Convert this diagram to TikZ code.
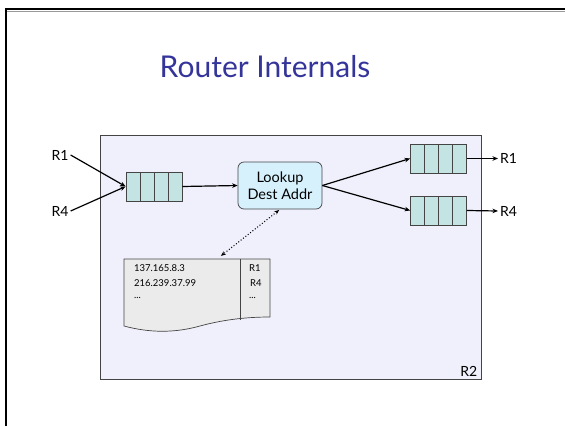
\documentclass[tikz,border=0pt]{standalone}
\usepackage{fontspec}
\setmainfont{Lato}
\usetikzlibrary{arrows.meta,calc}

\definecolor{titleblue}{HTML}{34349A}
\definecolor{routerfill}{HTML}{F0F0FC}
\definecolor{queuefill}{HTML}{C4E4E4}
\definecolor{lookupfill}{HTML}{D6F0FC}
\definecolor{tablefill}{HTML}{EBEBEB}
\definecolor{edge}{HTML}{444444}

\begin{document}
\begin{tikzpicture}[x=1pt,y=-1pt,
  every node/.style={inner sep=2pt},
  lbl/.style={font=\fontsize{14}{16}\selectfont},
  small/.style={font=\fontsize{9.5}{11}\selectfont, inner sep=0pt, anchor=west},
  routerbox/.style={draw=edge, line width=0.9pt, fill=routerfill, inner sep=0pt},
  queue/.style={draw=edge, line width=0.7pt, fill=queuefill,
    minimum width=56pt, minimum height=29pt, inner sep=0pt,
    path picture={\foreach \i in {1,2,3}{
      \draw[edge, line width=0.7pt]
        ($(path picture bounding box.south west)!\i/4!(path picture bounding box.south east)$) --
        ($(path picture bounding box.north west)!\i/4!(path picture bounding box.north east)$);}}},
  lookupbox/.style={draw=edge, line width=0.7pt, fill=lookupfill, rounded corners=6pt,
    minimum width=84pt, minimum height=47pt, align=center, inner sep=0pt,
    font=\fontsize{14.5}{17}\selectfont},
  arr/.style={line width=1.2pt, -{Stealth[length=5.5pt,width=4.5pt]}},
  dotarr/.style={line width=1pt, dotted, {Stealth[length=5pt,width=4pt]}-{Stealth[length=5pt,width=4pt]}},
]
\useasboundingbox (0,0) rectangle (565,426);

% slide frame with its shadow
\draw[black!40, line width=1.2pt] (565,11.2) -- (7,11.2);
\draw[black, line width=2.6pt] (565,9) -- (6,9) -- (6,426);

% title
\node[text=titleblue, font=\fontsize{30}{34}\selectfont] (title) at (265,67) {Router Internals};

% router R2
\node[routerbox, minimum width=381pt, minimum height=244pt] (r2) at (290.5,257) {};
\node[lbl, anchor=south east] (r2lbl) at ($(r2.south east)+(-2,-1)$) {R2};

% queues and lookup
\node[queue] (qin) at (154,186.5) {};
\node[queue] (qr1) at (438.5,158.5) {};
\node[queue] (qr4) at (438.5,210.5) {};
\node[lookupbox] (lk) at (280,185.5) {Lookup\\Dest Addr};

% port labels
\node[lbl] (inR1) at (60,155) {R1};
\node[lbl] (inR4) at (60,211) {R4};
\node[lbl, anchor=west] (outR1) at (498,158.5) {R1};
\node[lbl, anchor=west] (outR4) at (498,211) {R4};

% forwarding table
\draw[edge, line width=0.7pt, fill=tablefill]
  (124,259) -- (270,259) -- (270,317)
  .. controls (245,317) and (222,320) .. (200,326)
  .. controls (175,333) and (150,333) .. (124,326) -- cycle;
\draw[edge, line width=0.7pt] (240,259) -- (240,320);
\coordinate (tbltop) at (217,259);
\node[small] (a1) at (134,268) {137.165.8.3};
\node[small] (a2) at (134,283) {216.239.37.99};
\node[small] (a3) at (134,298) {...};
\node[small] (p1) at (249,268) {R1};
\node[small] (p2) at (250,283) {R4};
\node[small] (p3) at (249,298) {...};

% connectors
\draw[arr] (inR1.east) -- (qin.west);
\draw[arr] (inR4.east) -- (qin.west);
\draw[arr] (qin.east) -- (lk.west);
\draw[arr] (lk.east) -- (qr1.west);
\draw[arr] (lk.east) -- (qr4.west);
\draw[arr] (qr1.east) -- (outR1.west);
\draw[arr] (qr4.east) -- (outR4.west);
\draw[dotarr, shorten >=5pt, shorten <=1pt] (lk.south) -- (tbltop);
\end{tikzpicture}
\end{document}
